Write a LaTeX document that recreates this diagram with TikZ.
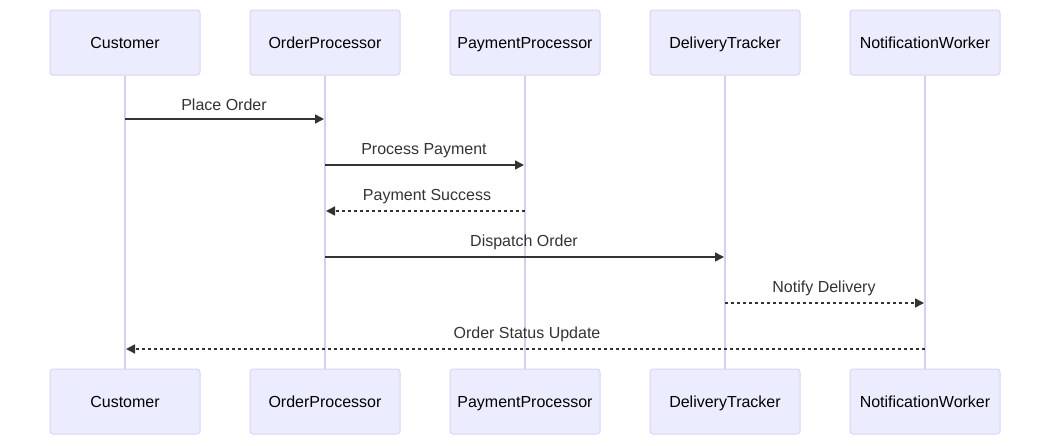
\documentclass[tikz,border=0pt]{standalone}
\usepackage{fontspec}
\setmainfont{Liberation Sans}
\usetikzlibrary{arrows.meta}
\definecolor{actfill}{HTML}{ECECFF}
\definecolor{actdraw}{HTML}{D9D3F5}
\definecolor{lifeln}{HTML}{D6CEF0}
\definecolor{txt}{HTML}{333333}
\begin{document}
\begin{tikzpicture}[x=1pt,y=-1pt,
  actor/.style={draw=actdraw,fill=actfill,line width=1pt,rounded corners=3pt,minimum width=150pt,minimum height=65pt,inner sep=0pt,text height=15.4pt,text depth=2.6pt,font=\fontsize{16}{19}\selectfont,text=black},
  life/.style={draw=lifeln,line width=1.5pt},
  msg/.style={draw=txt,line width=1.5pt,-{Triangle[length=9pt,width=9pt]}},
  reply/.style={msg,dash pattern=on 3pt off 3pt},
  lbl/.style={font=\fontsize{16}{19}\selectfont,text=txt,inner sep=0pt,text height=14pt,text depth=2.6pt}]
\useasboundingbox (0,0) rectangle (1050,445);
\foreach \n/\t/\x in {c/Customer/125,o/OrderProcessor/325,p/PaymentProcessor/525,d/DeliveryTracker/725,w/NotificationWorker/925}{
  \node[actor] (\n top) at (\x,42.5) {\t};
  \node[actor] (\n bot) at (\x,401.5) {\t};
  \draw[life] (\n top) -- (\n bot);
}
\foreach \n/\x in {c/125,o/325,p/525,d/725,w/925}{
  \foreach \k/\y in {1/119,2/165,3/211,4/257,5/303,6/349}{
    \coordinate (\n\k) at (\x,\y);
  }
}
\draw[msg] (c1) -- ([xshift=-1pt]o1);
\node[lbl] at (224,104.5) {Place Order};
\draw[msg] (o2) -- ([xshift=-1pt]p2);
\node[lbl] at (424,148.5) {Process Payment};
\draw[reply] (p3) -- ([xshift=1pt]o3);
\node[lbl] at (427,194.5) {Payment Success};
\draw[msg] (o4) -- ([xshift=-1pt]d4);
\node[lbl] at (524,240.5) {Dispatch Order};
\draw[reply] (d5) -- ([xshift=-1pt]w5);
\node[lbl] at (824,286.5) {Notify Delivery};
\draw[reply] (w6) -- ([xshift=1pt]c6);
\node[lbl] at (527,332.5) {Order Status Update};
\end{tikzpicture}
\end{document}
